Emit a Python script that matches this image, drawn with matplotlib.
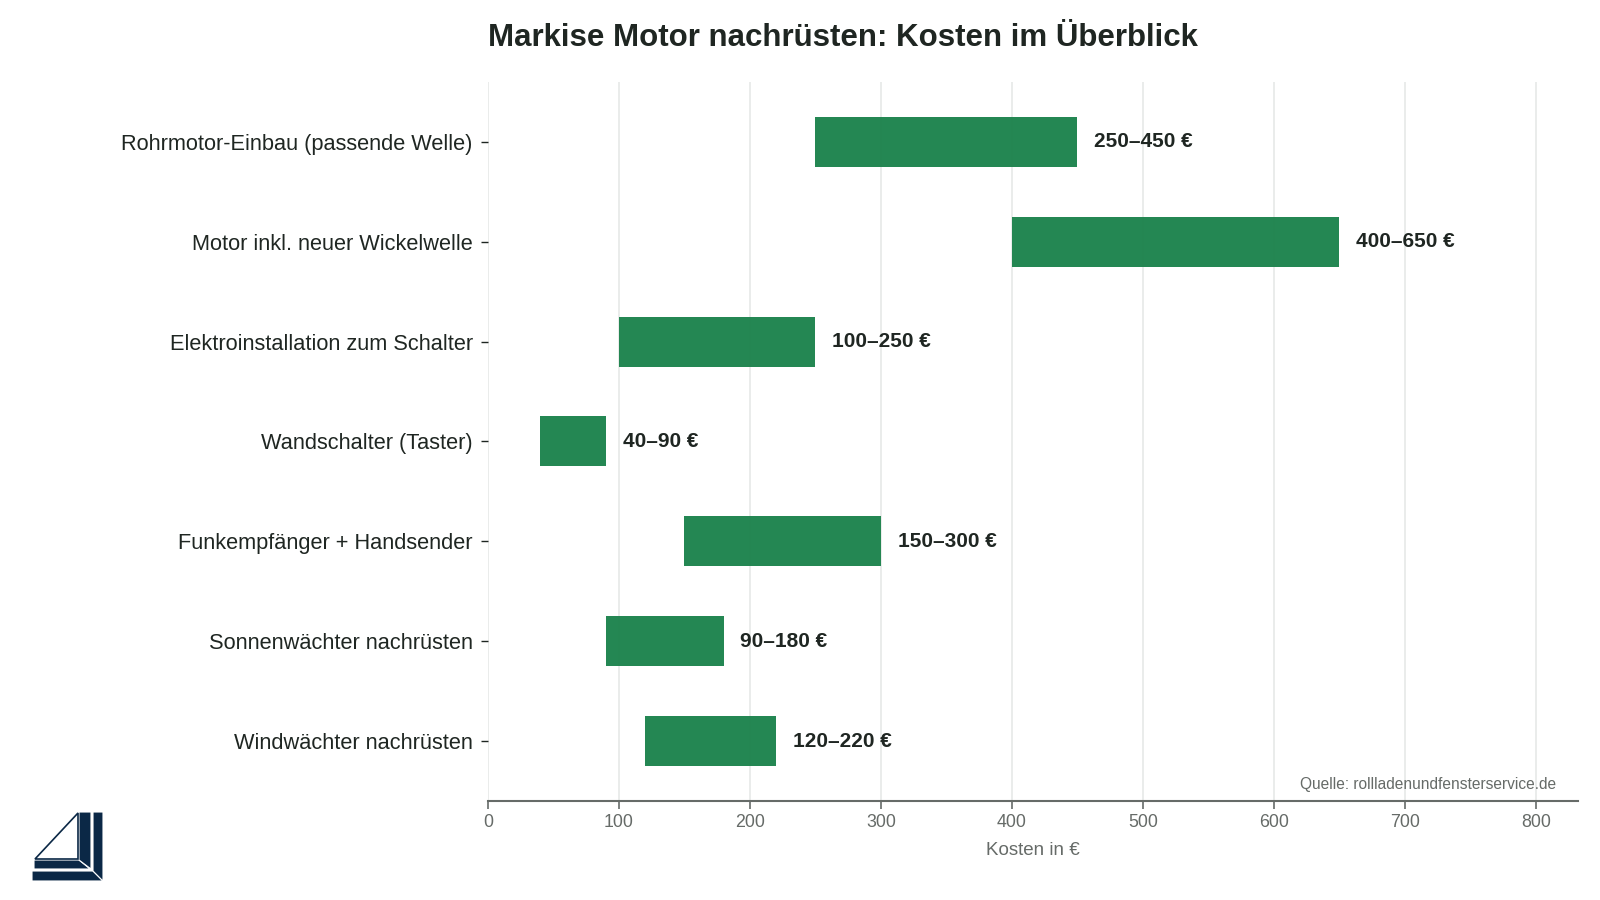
import matplotlib.pyplot as plt
from matplotlib.patches import Polygon

plt.rcParams['font.family'] = ['Liberation Sans', 'DejaVu Sans']

# data
categories = ['Rohrmotor-Einbau (passende Welle)', 'Motor inkl. neuer Wickelwelle',
              'Elektroinstallation zum Schalter', 'Wandschalter (Taster)',
              'Funkempfänger + Handsender', 'Sonnenwächter nachrüsten',
              'Windwächter nachrüsten']
cost_min = [250, 400, 100, 40, 150, 90, 120]
cost_max = [450, 650, 250, 90, 300, 180, 220]
xticks = [0, 100, 200, 300, 400, 500, 600, 700, 800]

bar_color = '#1d834d'
dark = '#1f2622'
grey = '#666b68'

fig = plt.figure(figsize=(16, 9), dpi=100)
ax = fig.add_axes([0.305, 0.11, 0.681, 0.799])

ypos = list(range(len(categories)))
widths = [hi - lo for lo, hi in zip(cost_min, cost_max)]
ax.barh(ypos, widths, left=cost_min, height=0.5, color=bar_color, alpha=0.97, zorder=2)

for y, lo, hi in zip(ypos, cost_min, cost_max):
    ax.annotate('{}–{} €'.format(lo, hi), xy=(hi, y), xytext=(12, 0), textcoords='offset points',
                va='center', ha='left', fontsize=15, fontweight='bold', color=dark)

ax.set_ylim(len(categories) - 0.4, -0.6)
ax.set_xlim(0, 832)
ax.set_yticks(ypos)
ax.set_yticklabels(categories, fontsize=15.7, color=dark)
ax.set_xticks(xticks)
ax.tick_params(axis='x', labelsize=12.8, colors=grey, length=6, width=1.2)
ax.tick_params(axis='y', length=5, width=1, color=dark, pad=6)
ax.grid(axis='x', color='#e6e9e7', linewidth=1.2, zorder=0)
ax.set_axisbelow(True)
for s in ['top', 'right', 'left']:
    ax.spines[s].set_visible(False)
ax.spines['bottom'].set_color(grey)
ax.spines['bottom'].set_linewidth(1.5)
ax.set_xlabel('Kosten in €', fontsize=13.5, color=grey, labelpad=8)

ax.text(0.98, 0.012, 'Quelle: rollladenundfensterservice.de', transform=ax.transAxes,
        ha='right', va='bottom', fontsize=11.2, color=grey)

fig.text(0.527, 0.958, 'Markise Motor nachrüsten: Kosten im Überblick', ha='center', va='center',
         fontsize=22.5, fontweight='bold', color=dark)

# logo in pixel coordinates
lax = fig.add_axes([0, 0, 1, 1], zorder=-1)
lax.set_xlim(0, 1600)
lax.set_ylim(900, 0)
lax.axis('off')
navy = '#0b2846'
shapes = [
    [(32, 871), (93, 871), (103, 881), (32, 881)],
    [(93, 812), (103, 812), (103, 881), (93, 871)],
    [(34, 860), (79, 860), (90, 869), (34, 869)],
    [(79, 812), (91, 812), (91, 869), (79, 860)],
]
for pts in shapes:
    lax.add_patch(Polygon(pts, closed=True, facecolor=navy, edgecolor='white', linewidth=0.8))
lax.add_patch(Polygon([(35, 859), (78, 813), (78, 859)], closed=True, fill=False,
                      edgecolor=navy, linewidth=1.2))

fig.savefig('out.png', dpi=100)
